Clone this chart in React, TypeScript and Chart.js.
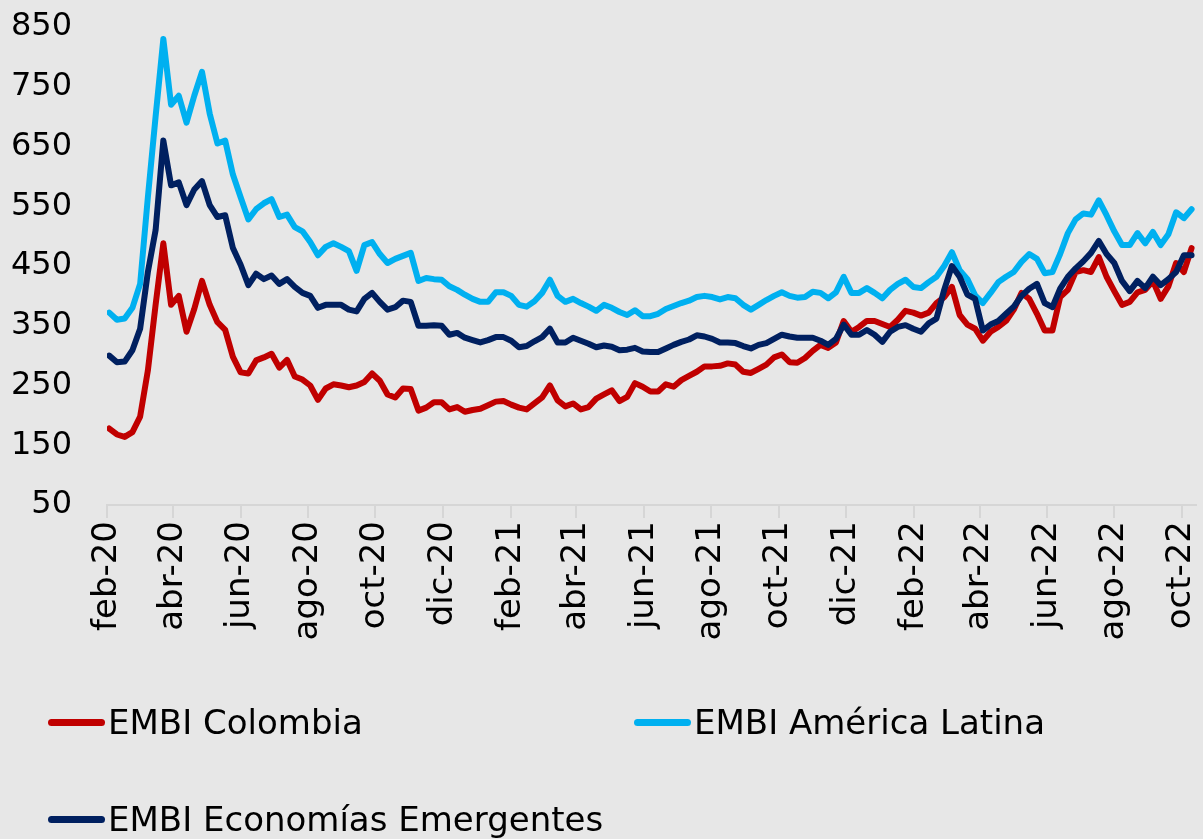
import { useEffect, useRef } from "react";
import { Chart, registerables } from "chart.js";

Chart.register(...registerables);

// Weekly observations starting on this date (one value per week)
const firstWeek = "2020-02-03";
const axisStart = "2020-02-01";
const axisEnd = "2022-10-14";

const colombia = [
  178, 168, 164, 172, 198, 275, 385, 488, 385, 400,
  340, 378, 425, 385, 356, 343, 298, 272, 270, 292,
  297, 303, 280, 293, 265, 260, 250, 226, 245, 252,
  250, 247, 250, 256, 270, 258, 235, 230, 245, 244,
  208, 213, 222, 222, 210, 214, 206, 209, 211, 217,
  223, 224, 218, 213, 210, 220, 230, 250, 225, 215,
  220, 210, 214, 228, 235, 242, 224, 231, 254, 248,
  240, 240, 252, 248, 259, 266, 273, 282, 282, 283,
  287, 285, 273, 271, 278, 285, 297, 302, 289, 288,
  296, 308, 318, 313, 322, 358, 340, 348, 358, 358,
  353, 348, 360, 375, 372, 367, 372, 388, 398, 415,
  368, 352, 345, 325, 340, 348, 358, 377, 405, 395,
  370, 342, 342, 398, 410, 440, 443, 440, 465, 432,
  408, 385, 390, 406, 410, 425, 395, 416, 455, 440,
  480,
];

const americaLatina = [
  372, 360, 362, 380, 420, 565, 700, 830, 720, 735,
  690, 735, 775, 705, 655, 660, 603, 565, 528, 545,
  555, 562, 532, 536, 515, 508, 490, 468, 482, 488,
  482, 475, 442, 485, 490, 470, 455, 462, 467, 472,
  425, 430, 428, 427, 416, 410, 402, 395, 390, 390,
  406, 406, 400, 385, 382, 391, 405, 427, 400, 390,
  395, 388, 382, 375, 385, 380, 373, 368, 376, 366,
  366, 370, 378, 383, 388, 392, 398, 400, 398, 394,
  398, 396, 385, 377, 385, 393, 400, 406, 400, 397,
  398, 407, 405, 396, 406, 432, 405, 405, 413, 405,
  396, 410, 420, 427, 415, 413, 423, 432, 450, 473,
  443, 428, 401, 388, 405, 423, 432, 440, 457, 470,
  462, 438, 440, 470, 505, 528, 538, 536, 560, 535,
  508, 485, 485, 505, 488, 507, 485, 503, 540, 530,
  545,
];

const emergentes = [
  300, 289, 290, 309, 345, 440, 510, 660, 585, 590,
  552, 578, 592, 552, 532, 535, 480, 452, 418, 437,
  428, 434, 420, 428, 415, 405, 400, 380, 385, 385,
  385, 377, 374, 395, 405, 390, 377, 381, 392, 390,
  350, 350, 351, 350, 335, 338, 330, 326, 322, 326,
  331, 331, 325, 314, 316, 324, 331, 345, 322, 322,
  330, 325, 320, 314, 317, 315, 309, 310, 313, 307,
  306, 306, 312, 318, 323, 327, 334, 332, 328, 322,
  322, 321, 316, 312, 318, 321, 328, 335, 332, 330,
  330, 330, 325, 318, 328, 352, 335, 335, 343, 335,
  323, 340, 348, 351, 345, 340, 354, 362, 410, 450,
  432, 402, 395, 342, 352, 358, 370, 382, 400, 412,
  420, 388, 381, 412, 432, 446, 458, 472, 492, 470,
  455, 425, 408, 425, 413, 432, 418, 428, 440, 468,
  468,
];

const tickDates = [
  "2020-02-01", "2020-04-01", "2020-06-01", "2020-08-01", "2020-10-01", "2020-12-01",
  "2021-02-01", "2021-04-01", "2021-06-01", "2021-08-01", "2021-10-01", "2021-12-01",
  "2022-02-01", "2022-04-01", "2022-06-01", "2022-08-01", "2022-10-01",
];
const tickLabels = [
  "feb-20", "abr-20", "jun-20", "ago-20", "oct-20", "dic-20",
  "feb-21", "abr-21", "jun-21", "ago-21", "oct-21", "dic-21",
  "feb-22", "abr-22", "jun-22", "ago-22", "oct-22",
];

const yMin = 50;
const yMax = 850;
const yStep = 100;

const seriesNames = ["EMBI Colombia", "EMBI América Latina", "EMBI Economías Emergentes"];
const seriesColors = ["#C00000", "#00B0F0", "#002060"];

const FONT = "'DejaVu Sans', sans-serif";

function dayIndex(s: string): number {
  const [y, m, d] = s.split("-").map(Number);
  const [y0, m0, d0] = axisStart.split("-").map(Number);
  return Math.round((Date.UTC(y, m - 1, d) - Date.UTC(y0, m0 - 1, d0)) / 86400000);
}

export default function App() {
  const ref = useRef<HTMLCanvasElement>(null);

  useEffect(() => {
    document.body.style.margin = "0";
    const canvas = ref.current;
    if (!canvas) return;
    const start = dayIndex(firstWeek);
    const toPoints = (vals: number[]) => vals.map((v, i) => ({ x: start + 7 * i, y: v }));
    const seriesValues = [colombia, americaLatina, emergentes];
    const drawOrder = [1, 2, 0];

    const chart = new Chart(canvas, {
      type: "line",
      data: {
        datasets: seriesValues.map((vals, i) => ({
          label: seriesNames[i],
          data: toPoints(vals),
          borderColor: seriesColors[i],
          backgroundColor: seriesColors[i],
          borderWidth: 6,
          pointRadius: 0,
          tension: 0,
          borderJoinStyle: "round" as const,
          borderCapStyle: "round" as const,
          fill: false,
          order: drawOrder[i],
        })),
      },
      options: {
        animation: false,
        responsive: false,
        maintainAspectRatio: false,
        layout: { padding: { top: 27, right: 7, bottom: 184, left: 0 } },
        plugins: { legend: { display: false }, tooltip: { enabled: false } },
        scales: {
          x: {
            type: "linear",
            min: dayIndex(axisStart),
            max: dayIndex(axisEnd),
            afterBuildTicks: (s: any) => {
              s.ticks = tickDates.map((d) => ({ value: dayIndex(d) }));
            },
            afterFit: (s: any) => {
              s.height = 150;
              s.paddingLeft = 0;
              s.paddingRight = 0;
            },
            ticks: {
              autoSkip: false,
              minRotation: 90,
              maxRotation: 90,
              padding: 3,
              color: "#000000",
              font: { family: FONT, size: 34 },
              callback: (_v: any, i: number) => tickLabels[i],
            },
            grid: {
              display: true,
              drawOnChartArea: false,
              drawTicks: true,
              tickLength: 13,
              color: "#d6d6d6",
              lineWidth: 2,
            },
            border: { display: true, color: "#d6d6d6", width: 2 },
          },
          y: {
            min: yMin,
            max: yMax,
            afterFit: (s: any) => {
              s.width = 107;
              s.paddingTop = 0;
              s.paddingBottom = 0;
            },
            ticks: {
              stepSize: yStep,
              padding: 35,
              color: "#000000",
              font: { family: FONT, size: 32 },
            },
            grid: { display: false, drawTicks: false },
            border: { display: false },
          },
        },
      },
    });
    return () => chart.destroy();
  }, []);

  const legendPos = [
    { left: 48, top: 722 },
    { left: 634, top: 722 },
    { left: 48, top: 819 },
  ];

  return (
    <div style={{ position: "relative", width: 1203, height: 839, background: "#e7e7e7", overflow: "hidden" }}>
      <canvas ref={ref} width={1203} height={839} style={{ display: "block", position: "absolute", left: 0, top: 0 }} />
      {seriesNames.map((name, i) => (
        <div
          key={name}
          style={{
            position: "absolute",
            left: legendPos[i].left,
            top: legendPos[i].top - 25,
            height: 50,
            display: "flex",
            alignItems: "center",
            whiteSpace: "nowrap",
          }}
        >
          <div style={{ width: 57, height: 7, borderRadius: 4, background: seriesColors[i] }} />
          <span style={{ fontFamily: FONT, fontSize: 34, color: "#000", marginLeft: 3, lineHeight: "50px" }}>{name}</span>
        </div>
      ))}
    </div>
  );
}
